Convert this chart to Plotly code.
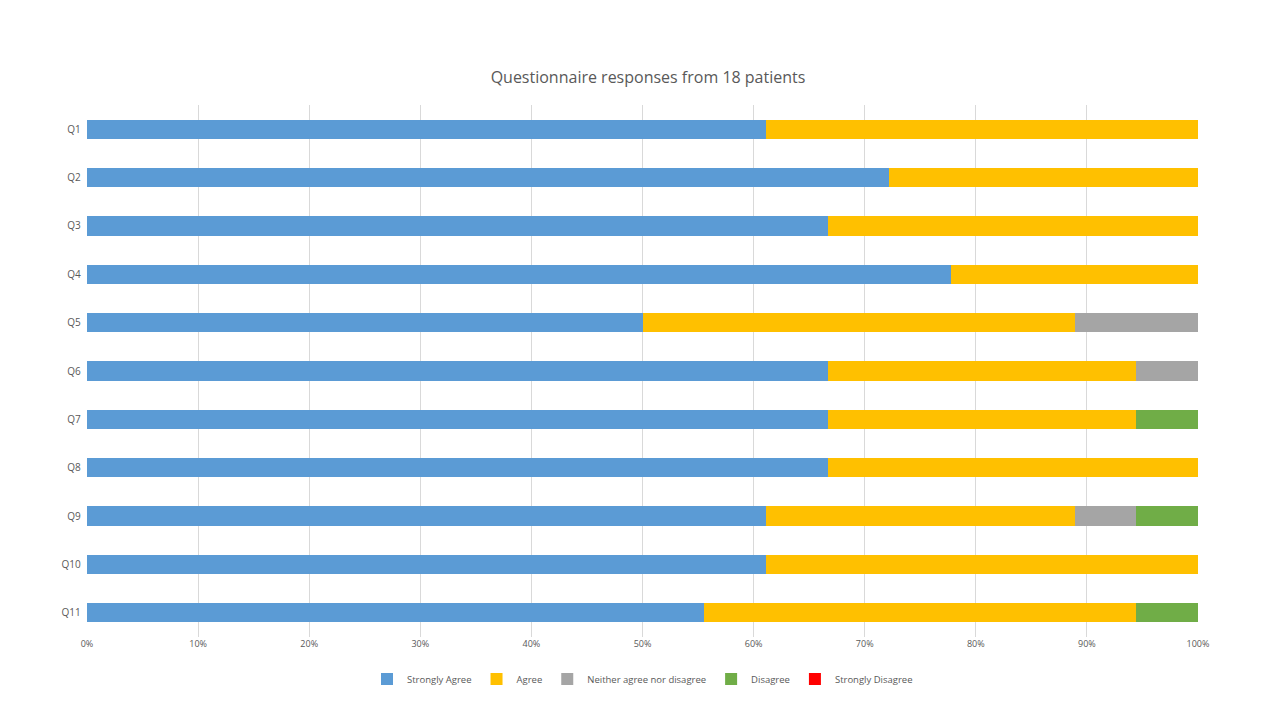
import plotly.graph_objects as go

questions = ["Q1", "Q2", "Q3", "Q4", "Q5", "Q6", "Q7", "Q8", "Q9", "Q10", "Q11"]

# number of patients (out of 18) per answer
strongly_agree = [11, 13, 12, 14, 9, 12, 12, 12, 11, 11, 10]
agree = [7, 5, 6, 4, 7, 5, 5, 6, 5, 7, 7]
neither = [0, 0, 0, 0, 2, 1, 0, 0, 1, 0, 0]
disagree = [0, 0, 0, 0, 0, 0, 1, 0, 1, 0, 1]
strongly_disagree = [0, 0, 0, 0, 0, 0, 0, 0, 0, 0, 0]

series = [
    ("Strongly Agree", strongly_agree, "#5B9BD5"),
    ("Agree", agree, "#FFC000"),
    ("Neither agree nor disagree", neither, "#A5A5A5"),
    ("Disagree", disagree, "#70AD47"),
    ("Strongly Disagree", strongly_disagree, "#FF0000"),
]

fig = go.Figure()
for name, vals, col in series:
    fig.add_trace(go.Bar(y=questions, x=vals, name=name, orientation="h",
                         marker=dict(color=col, line=dict(width=0)), width=0.4))

# page body has an 8px margin, so shift everything up/left by 8
fig.update_layout(
    barmode="stack",
    barnorm="percent",
    width=1280, height=720,
    margin=dict(l=79, r=90, t=97, b=91),
    paper_bgcolor="white", plot_bgcolor="white",
    font=dict(family="Open Sans", size=10, color="#595959"),
    title=dict(text="Questionnaire responses from 18 patients", x=0.5, xanchor="center",
               y=1 - 69 / 720, yanchor="middle", font=dict(size=16, color="#595959")),
    xaxis=dict(range=[0, 100], dtick=10, ticksuffix="%", showgrid=True, gridcolor="#D9D9D9",
               zeroline=False, showline=False, tickfont=dict(size=9)),
    yaxis=dict(autorange="reversed", showgrid=False, ticks="", ticklen=0,
               tickfont=dict(size=10), ticksuffix="  "),
    legend=dict(orientation="h", x=0.5, xanchor="center", y=-0.079, yanchor="middle",
                traceorder="normal", font=dict(size=9.5), itemwidth=30),
)

fig.write_html("out.html")
